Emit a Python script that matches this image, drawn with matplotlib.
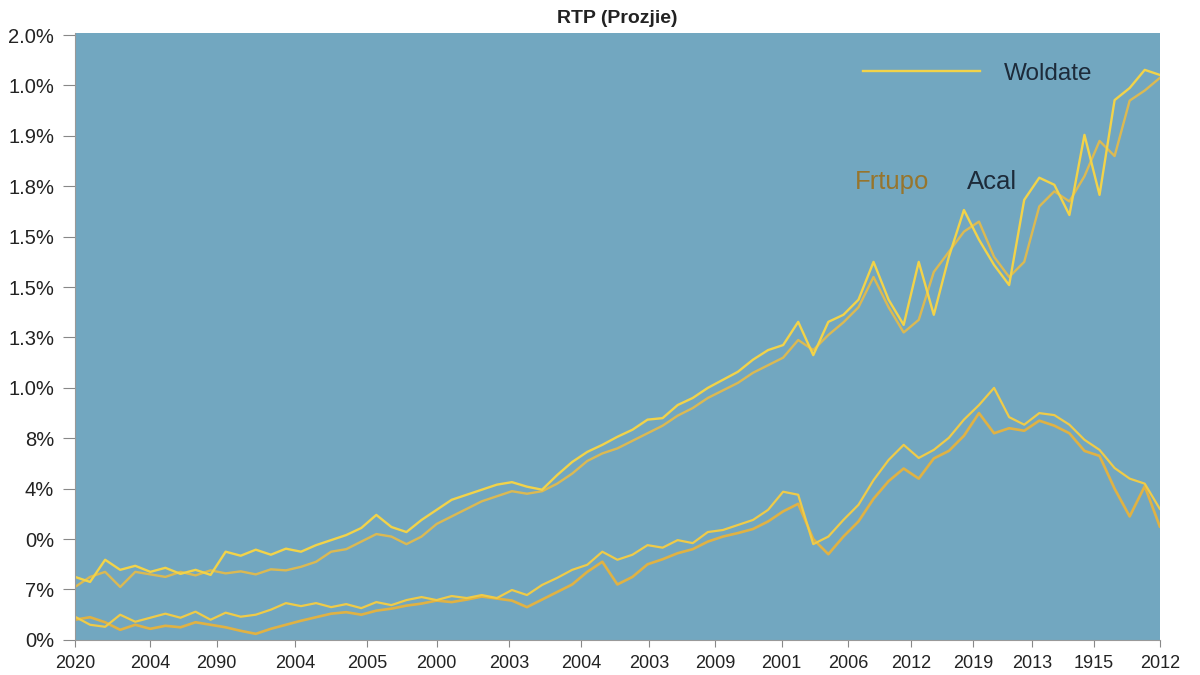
import matplotlib.pyplot as plt
import numpy as np

plt.rcParams['font.family'] = ['Liberation Sans', 'DejaVu Sans']

# y values in tick-step units (0 = bottom tick, 12 = top tick)
upper_a = [1.25, 1.15, 1.59, 1.39, 1.47, 1.35, 1.43, 1.31, 1.39, 1.29, 1.75, 1.67,
           1.79, 1.69, 1.81, 1.75, 1.88, 1.98, 2.08, 2.22, 2.48, 2.24, 2.14, 2.38,
           2.58, 2.78, 2.88, 2.98, 3.08, 3.13, 3.04, 2.98, 3.27, 3.53, 3.73, 3.87,
           4.03, 4.17, 4.37, 4.40, 4.66, 4.80, 5.00, 5.16, 5.32, 5.56, 5.75, 5.85,
           6.31, 5.65, 6.31, 6.45, 6.75, 7.50, 6.75, 6.25, 7.50, 6.45, 7.60, 8.53,
           7.94, 7.44, 7.04, 8.73, 9.17, 9.03, 8.43, 10.02, 8.83, 10.71, 10.95, 11.31,
           11.21]
upper_b = [1.05, 1.25, 1.35, 1.05, 1.35, 1.30, 1.25, 1.35, 1.28, 1.38, 1.32, 1.36,
           1.30, 1.40, 1.38, 1.45, 1.55, 1.75, 1.80, 1.95, 2.10, 2.05, 1.90, 2.05,
           2.30, 2.45, 2.60, 2.75, 2.85, 2.95, 2.90, 2.95, 3.10, 3.30, 3.55, 3.70,
           3.80, 3.95, 4.10, 4.25, 4.45, 4.60, 4.80, 4.95, 5.10, 5.30, 5.45, 5.60,
           5.95, 5.75, 6.05, 6.30, 6.60, 7.20, 6.60, 6.10, 6.35, 7.30, 7.70, 8.10,
           8.30, 7.60, 7.20, 7.50, 8.60, 8.90, 8.70, 9.20, 9.90, 9.60, 10.70, 10.90,
           11.15]
lower_c = [0.46, 0.30, 0.26, 0.50, 0.36, 0.44, 0.52, 0.44, 0.56, 0.40, 0.54, 0.46,
           0.50, 0.60, 0.73, 0.67, 0.73, 0.65, 0.71, 0.63, 0.75, 0.69, 0.79, 0.85,
           0.79, 0.87, 0.83, 0.89, 0.83, 0.99, 0.89, 1.09, 1.23, 1.39, 1.49, 1.75,
           1.59, 1.69, 1.88, 1.83, 1.98, 1.92, 2.14, 2.18, 2.28, 2.38, 2.58, 2.94,
           2.88, 1.90, 2.05, 2.38, 2.68, 3.17, 3.57, 3.87, 3.61, 3.77, 4.01, 4.37,
           4.66, 5.00, 4.42, 4.27, 4.50, 4.46, 4.27, 3.97, 3.77, 3.41, 3.20, 3.10,
           2.60]
lower_d = [0.40, 0.45, 0.35, 0.20, 0.30, 0.22, 0.28, 0.25, 0.35, 0.30, 0.25, 0.18,
           0.12, 0.22, 0.30, 0.38, 0.45, 0.52, 0.55, 0.50, 0.58, 0.62, 0.68, 0.72,
           0.78, 0.75, 0.80, 0.86, 0.82, 0.78, 0.65, 0.80, 0.95, 1.10, 1.35, 1.55,
           1.10, 1.25, 1.50, 1.60, 1.72, 1.80, 1.95, 2.05, 2.12, 2.20, 2.35, 2.55,
           2.70, 2.00, 1.70, 2.05, 2.35, 2.80, 3.15, 3.40, 3.20, 3.60, 3.75, 4.05,
           4.50, 4.10, 4.20, 4.15, 4.35, 4.25, 4.10, 3.75, 3.65, 3.00, 2.45, 3.05,
           2.25]

ytick_labels = ["0%", "7%", "0%", "4%", "8%", "1.0%", "1.3%", "1.5%", "1.5%",
                "1.8%", "1.9%", "1.0%", "2.0%"]
xtick_labels = ["2020", "2004", "2090", "2004", "2005", "2000", "2003", "2004", "2003",
                "2009", "2001", "2006", "2012", "2019", "2013", "1915", "2012"]
xtick_pos = [0, 5.0, 9.4, 14.6, 19.4, 24.0, 28.8, 33.6, 38.1, 42.5, 46.9, 51.3,
             55.5, 59.6, 63.5, 67.6, 72]

x = np.arange(len(upper_a))

fig = plt.figure(figsize=(12, 6.75), dpi=100, facecolor="white")
ax = fig.add_axes([0.0625, 0.052, 0.904, 0.899])
ax.set_facecolor("#72a7c0")

ax.plot(x, upper_b, color="#e2bb4c", lw=1.7, alpha=0.95)
ax.plot(x, upper_a, color="#f2d349", lw=1.7, label="Woldate")
ax.plot(x, lower_d, color="#e7b33c", lw=1.9, alpha=0.95)
ax.plot(x, lower_c, color="#efcb48", lw=1.6)

ax.set_xlim(0, 72)
ax.set_ylim(0, 12.04)
ax.set_yticks(range(13))
ax.set_yticklabels(ytick_labels, fontsize=14.5, color="#222222")
ax.set_xticks(xtick_pos)
ax.set_xticklabels(xtick_labels, fontsize=13, color="#222222")
ax.tick_params(axis="y", length=9, color="#888888", pad=6)
ax.tick_params(axis="x", length=5, color="#888888", pad=6)
for side in ["top", "right"]:
    ax.spines[side].set_visible(False)
for side in ["left", "bottom"]:
    ax.spines[side].set_color("#999999")

ax.set_title("RTP (Prozjie)", fontsize=14, fontweight="bold", color="#222222", pad=7)

leg = ax.legend(loc="upper right", bbox_to_anchor=(0.938, 0.951), frameon=False,
                handlelength=4.8, fontsize=17.5, handletextpad=1.0,
                borderpad=0, borderaxespad=0)
for t in leg.get_texts():
    t.set_color("#1d2b3a")

ax.text(0.719, 0.755, "Frtupo", transform=ax.transAxes, fontsize=18.5,
        color="#97752c", va="center")
ax.text(0.822, 0.755, "Acal", transform=ax.transAxes, fontsize=18.5,
        color="#1d2b3a", va="center")

plt.savefig("out.png", dpi=100)
